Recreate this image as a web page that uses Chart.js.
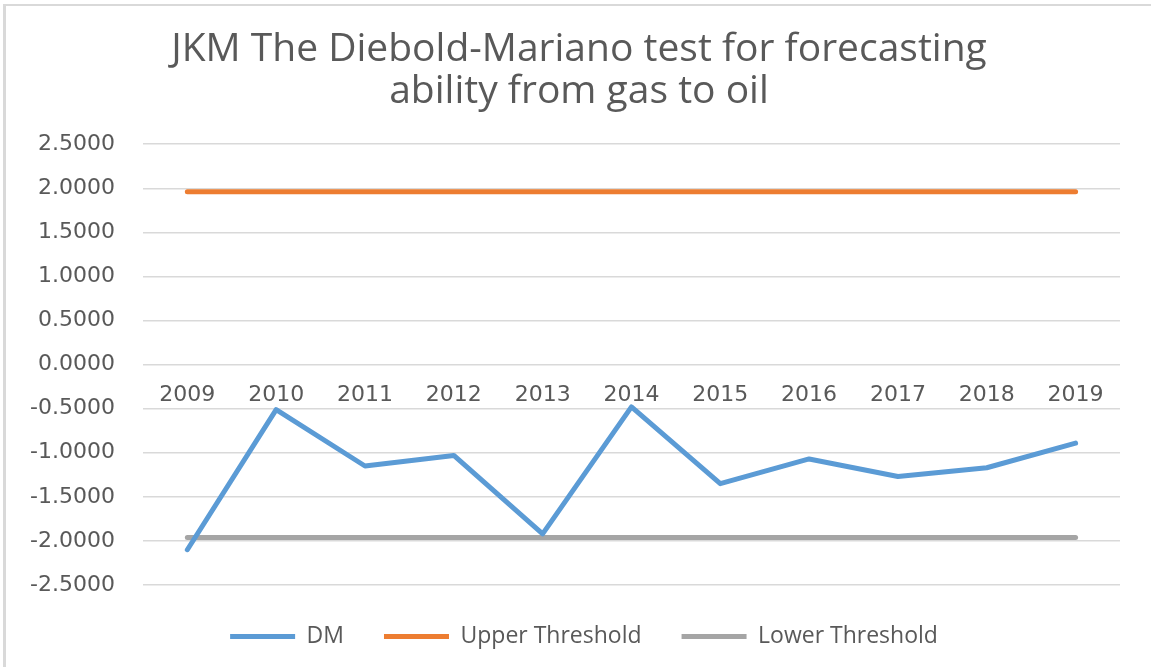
<!DOCTYPE html>
<html>
<head>
<meta charset="utf-8">
<script src="https://cdn.jsdelivr.net/npm/chart.js@4"></script>
<style>
html,body{margin:0;padding:0;background:#fff;}
#wrap{position:relative;width:1151px;height:667px;}
#frame{position:absolute;left:3px;top:4px;width:1148px;height:663px;border-left:3px solid #d9d9d9;border-top:2px solid #d9d9d9;box-sizing:border-box;pointer-events:none;}
canvas{position:absolute;left:0;top:0;}
</style>
</head>
<body>
<div id="wrap"><canvas id="c" width="1151" height="667"></canvas><div id="frame"></div></div>
<script>
const years = ['2009','2010','2011','2012','2013','2014','2015','2016','2017','2018','2019'];
const dm = [-2.10, -0.51, -1.15, -1.03, -1.92, -0.48, -1.35, -1.07, -1.27, -1.17, -0.89];
const upper = [1.96, 1.96, 1.96, 1.96, 1.96, 1.96, 1.96, 1.96, 1.96, 1.96, 1.96];
const lower = [-1.96, -1.96, -1.96, -1.96, -1.96, -1.96, -1.96, -1.96, -1.96, -1.96, -1.96];
const titleLines = ['JKM The Diebold-Mariano test for forecasting', 'ability from gas to oil'];

const txt = '#595959';
function ds(label, data, color){
  return {label, data, borderColor: color, backgroundColor: color, borderWidth: 5,
    pointRadius: 0, pointHoverRadius: 0, tension: 0, fill: false,
    borderCapStyle: 'round', borderJoinStyle: 'round'};
}
const shiftBoxes = {
  id: 'shiftBoxes',
  afterLayout(chart){
    if (chart.titleBlock){ chart.titleBlock.left += 18; chart.titleBlock.right += 18; }
    if (chart.legend){ chart.legend.left += 23; chart.legend.right += 23; }
  }
};
new Chart(document.getElementById('c'), {
  type: 'line',
  data: {
    labels: years,
    datasets: [
      ds('DM', dm, '#5B9BD5'),
      ds('Upper Threshold', upper, '#ED7D31'),
      ds('Lower Threshold', lower, '#A5A5A5')
    ]
  },
  plugins: [shiftBoxes],
  options: {
    responsive: false,
    animation: false,
    layout: {padding: {left: 2, right: 31, top: 18, bottom: 9}},
    plugins: {
      tooltip: {enabled: false},
      title: {
        display: true,
        text: titleLines,
        color: txt,
        font: {family: 'Open Sans', size: 39, weight: 'normal', lineHeight: 1.08},
        padding: {top: 11, bottom: 31}
      },
      legend: {
        position: 'bottom',
        labels: {
          color: txt,
          font: {family: 'Open Sans', size: 23},
          boxWidth: 65,
          boxHeight: 5,
          padding: 40,
          generateLabels(chart){
            return chart.data.datasets.map((d,i)=>({
              text: d.label, fillStyle: d.borderColor, strokeStyle: d.borderColor,
              lineWidth: 0, hidden: false, datasetIndex: i, fontColor: txt
            }));
          }
        }
      }
    },
    scales: {
      x: {
        position: {y: 0},
        offset: true,
        grid: {display: false, drawTicks: false, offset: true},
        border: {display: false},
        ticks: {color: txt, font: {family: 'DejaVu Sans', size: 22}, padding: 17, maxRotation: 0}
      },
      y: {
        min: -2.5, max: 2.5,
        grid: {color: '#d9d9d9', lineWidth: 1.5, drawTicks: false},
        border: {display: false},
        ticks: {stepSize: 0.5, color: txt, font: {family: 'DejaVu Sans', size: 22}, padding: 28,
          callback: v => Number(v).toFixed(4)}
      }
    }
  }
});
</script>
</body>
</html>
